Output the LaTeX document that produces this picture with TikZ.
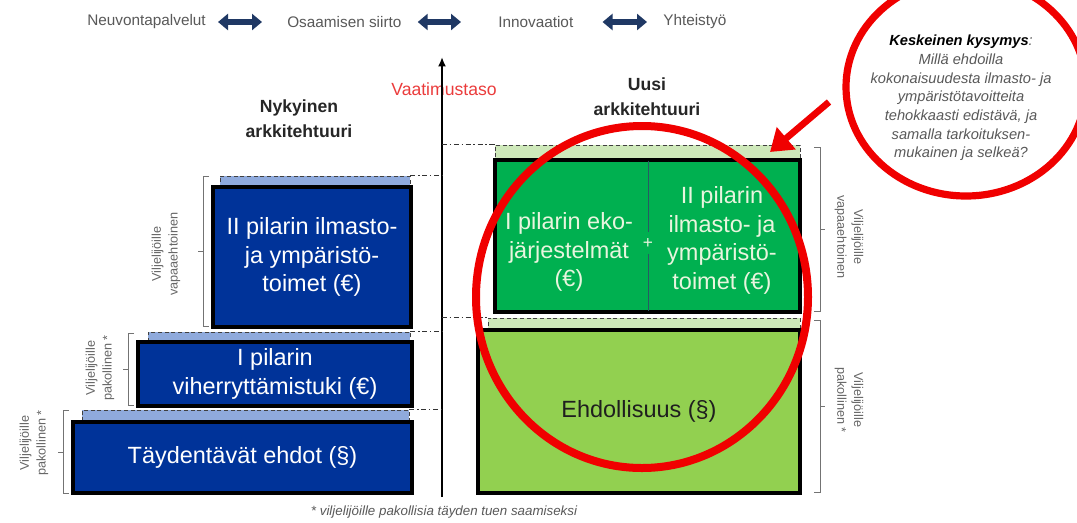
\documentclass[tikz,border=0pt]{standalone}
\usepackage{fontspec}
\setmainfont{Liberation Sans}
\usetikzlibrary{arrows.meta,shapes.geometric}
\definecolor{dblue}{RGB}{0,51,153}
\definecolor{lblue}{RGB}{143,170,220}
\definecolor{dgreen}{RGB}{0,176,80}
\definecolor{lgreen}{RGB}{146,208,80}
\definecolor{pgreen}{RGB}{206,232,186}
\definecolor{gtext}{RGB}{232,245,222}
\definecolor{navy}{RGB}{31,56,100}
\definecolor{txtgray}{RGB}{89,89,89}
\definecolor{vred}{RGB}{235,60,60}
\definecolor{cred}{RGB}{240,0,0}
\definecolor{divc}{RGB}{40,90,100}
\newdimen\pxd \pxd=0.75pt
\tikzset{
  box/.style={draw=black, line width=2.4pt, inner sep=0pt, align=center},
  strip/.style={draw=black!75, densely dashed, line width=0.5pt, inner sep=0pt},
  bigtxt/.style={font=\fontsize{17.6pt}{21.5pt}\selectfont, align=center},
  headtxt/.style={font=\fontsize{13.2pt}{19pt}\selectfont\bfseries, align=center, text=black!85},
  toptxt/.style={font=\fontsize{11.5pt}{13pt}\selectfont, text=txtgray, inner sep=0pt, anchor=west},
  sidetxt/.style={font=\fontsize{9.5pt}{12.5pt}\selectfont, text=black!60, align=center, inner sep=0pt},
  dblarr/.style={draw=navy, line width=4.3pt, {Triangle[length=7.5pt,width=12pt]}-{Triangle[length=7.5pt,width=12pt]}},
  dd/.style={draw=black!80, line width=0.9pt, dash pattern=on 3.8pt off 2pt on 1.1pt off 2pt},
  brk/.style={draw=black!55, line width=0.6pt},
  divider/.style={draw=divc, line width=0.6pt},
  redarr/.style={draw=cred, line width=5pt, -{Triangle[length=16pt,width=21pt]}},
  ring/.style={draw=cred, ellipse, inner sep=0pt},
  axisln/.style={draw=black, line width=1.5pt, -{Latex[length=7pt,width=6pt]}}
}
\begin{document}
\begin{tikzpicture}[x=0.75pt,y=-0.75pt]
\useasboundingbox (0,0) rectangle (1077,522);
\fill[white] (0,0) rectangle (1077,522);

% top row
\node[toptxt] (t1) at (87,22) {Neuvontapalvelut};
\node[toptxt] (t2) at (287,22) {Osaamisen siirto};
\node[toptxt] (t3) at (498,22) {Innovaatiot};
\node[toptxt] (t4) at (663,22) {Yhteistyö};
\draw[dblarr, shorten <=12\pxd, shorten >=25\pxd] (t1.east) -- (t2.west);
\draw[dblarr, shorten <=16\pxd, shorten >=37\pxd] (t2.east) -- (t3.west);
\draw[dblarr, shorten <=29\pxd, shorten >=16\pxd] (t3.east) -- (t4.west);

% headings
\node[headtxt] (hl) at (299,119) {Nykyinen\\arkkitehtuuri};
\node[headtxt] (hr) at (647,97) {Uusi\\arkkitehtuuri};
\node[font=\fontsize{13.2pt}{15pt}\selectfont, text=vred, inner sep=0pt] (vt) at (444,89) {Vaatimustaso};

% left (blue) stack
\node[strip, fill=lblue, minimum width=190\pxd, minimum height=11\pxd] (b2s) at (315,181.5) {};
\node[box, fill=dblue, text=white, bigtxt, minimum width=198\pxd, minimum height=140\pxd] (b2) at (312,257) {II pilarin ilmasto-\\ja ympäristö-\\toimet (€)};
\node[strip, fill=lblue, minimum width=262\pxd, minimum height=10\pxd] (b1s) at (279,337) {};
\node[box, fill=dblue, text=white, bigtxt, minimum width=274\pxd, minimum height=64\pxd] (b1) at (275,374) {I pilarin\\viherryttämistuki (€)};
\node[strip, fill=lblue, minimum width=327\pxd, minimum height=12\pxd] (b0s) at (245.5,416) {};
\node[box, fill=dblue, text=white, bigtxt, minimum width=339\pxd, minimum height=71\pxd] (b0) at (242.5,457.5) {Täydentävät ehdot (§)};

% right (green) stack
\node[strip, fill=pgreen, minimum width=305\pxd, minimum height=15\pxd] (g1s) at (647.5,152.5) {};
\node[box, fill=dgreen, minimum width=305\pxd, minimum height=152\pxd] (g1) at (647.5,236) {};
\node[bigtxt, text=gtext] (g1l) at (569,252) {I pilarin eko-\\järjestelmät\\(€)};
\node[bigtxt, text=gtext] (g1r) at (722,240.5) {II pilarin\\ilmasto- ja\\ympäristö-\\toimet (€)};
\node[font=\fontsize{13pt}{14pt}\selectfont, text=gtext, inner sep=4pt] (plus) at (648,243) {+};
\draw[divider, shorten <=1.6pt] (g1.north -| plus) -- (plus.north);
\draw[divider, shorten >=1.6pt] (plus.south) -- (g1.south -| plus);
\node[strip, fill=pgreen, minimum width=312\pxd, minimum height=12\pxd] (g0s) at (644,324) {};
\node[box, fill=lgreen, bigtxt, text=black!88, minimum width=322\pxd, minimum height=163\pxd] (g0) at (639,411.5) {Ehdollisuus (§)};

% axis
\coordinate (axb) at (442,497);
\coordinate (axt) at (442,57);
\draw[axisln] (axb) -- (axt);

% dash-dot level lines
\draw[dd] (b2s.north east) -- (b2s.north east -| axb);
\draw[dd] (b1s.north east) -- (b1s.north east -| axb);
\draw[dd] (b0s.north east) -- (b0s.north east -| axb);
\draw[dd] (g1s.north west -| axb) -- (g1s.north west);
\draw[dd] (g0s.north west -| axb) -- (g0s.north west);

% brackets left
\draw[brk] (209,176) -- (203,176) -- (203,326) -- (209,326);
\draw[brk] (203,251) -- (198,251);
\draw[brk] (134,333) -- (128,333) -- (128,405) -- (134,405);
\draw[brk] (128,369) -- (123,369);
\draw[brk] (69,410) -- (63,410) -- (63,493) -- (69,493);
\draw[brk] (63,452) -- (58,452);
% brackets right
\draw[brk] (814,147) -- (820,147) -- (820,311) -- (814,311);
\draw[brk] (820,229) -- (825,229);
\draw[brk] (814,320) -- (820,320) -- (820,492) -- (814,492);
\draw[brk] (820,406) -- (825,406);

% side labels
\node[sidetxt, rotate=90] (l2) at (166,254) {Viljelijöille\\vapaaehtoinen};
\node[sidetxt, rotate=90] (l1) at (100,368) {Viljelijöille\\pakollinen *};
\node[sidetxt, rotate=90] (l0) at (34,443) {Viljelijöille\\pakollinen *};
\node[sidetxt, rotate=-90] (r1) at (849,237) {Viljelijöille\\vapaaehtoinen};
\node[sidetxt, rotate=-90] (r0) at (849,400) {Viljelijöille\\pakollinen *};

% footnote
\node[font=\fontsize{10pt}{12pt}\selectfont\itshape, text=txtgray, inner sep=0pt] (fn) at (444,512) {* viljelijöille pakollisia täyden tuen saamiseksi};

% red circles and arrow
\node[ring, line width=6pt, minimum width=332\pxd, minimum height=342\pxd] (bc) at (642,297) {};
\node[ring, line width=5.4pt, minimum width=240\pxd, minimum height=218\pxd] (sc) at (966,87) {};
\node[font=\fontsize{11pt}{14pt}\selectfont\itshape, text=txtgray, align=center, inner sep=0pt] (qt) at (961,98) {{\bfseries\color{black}Keskeinen kysymys}:\\Millä ehdoilla\\kokonaisuudesta ilmasto- ja\\ympäristötavoitteita\\tehokkaasti edistävä, ja\\samalla tarkoituksen-\\mukainen ja selkeä?};
\coordinate (ras) at (829,102);
\coordinate (rat) at (770,152);
\draw[redarr] (ras) -- (rat);
\end{tikzpicture}
\end{document}
